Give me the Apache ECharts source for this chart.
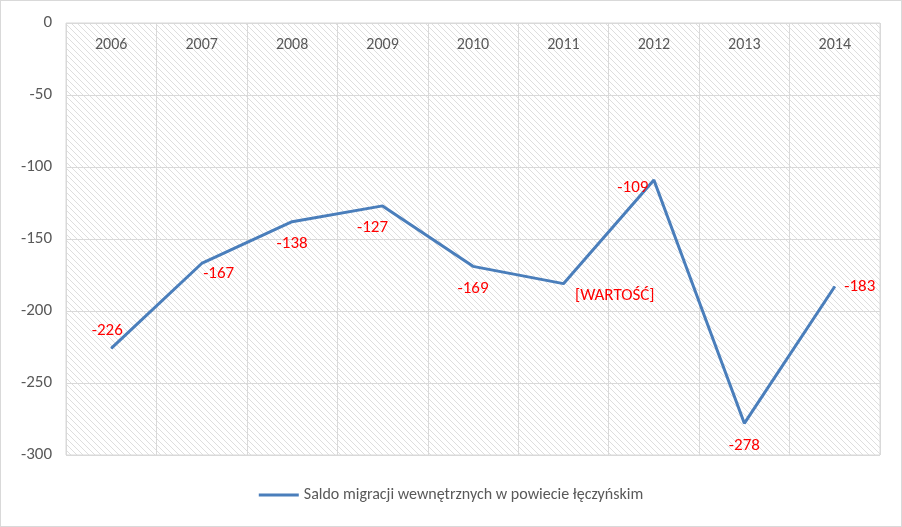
<!DOCTYPE html>
<html><head><meta charset="utf-8">
<script src="https://cdn.jsdelivr.net/npm/echarts@6/dist/echarts.min.js"></script>
<style>html,body{margin:0;padding:0;background:#fff}#c{width:902px;height:527px;box-sizing:border-box;border:1px solid #d9d9d9}</style>
</head><body><div id="c"></div>
<script>
const years = ['2006','2007','2008','2009','2010','2011','2012','2013','2014'];
const saldo = [-226, -167, -138, -127, -169, -181, -109, -278, -183];
const labelTexts = ['-226','-167','-138','-127','-169','[WARTOŚĆ]','-109','-278','-183'];
const labelPos = ['top','right','bottom','bottom','bottom','right','left','bottom','right'];
const labelOff = [[-4,-4],[-4,10],[0,8],[-10,8],[0,8],[6,12],[0,8],[0,8],[4,0]];

// diagonal hatch
const pc = document.createElement('canvas');
pc.width = 6; pc.height = 6;
const g = pc.getContext('2d');
g.fillStyle = '#ffffff'; g.fillRect(0,0,6,6);
g.strokeStyle = '#dedede'; g.lineWidth = 1;
g.beginPath();
g.moveTo(0,0); g.lineTo(6,6);
g.moveTo(-3,3); g.lineTo(3,9);
g.moveTo(3,-3); g.lineTo(9,3);
g.stroke();

const chart = echarts.init(document.getElementById('c'));
const font = 'Carlito, "Open Sans", sans-serif';
chart.setOption({
  animation: false,
  textStyle: { fontFamily: font },
  grid: { left: 65, right: 21, top: 22, bottom: 71, show: true,
    backgroundColor: { image: pc, repeat: 'repeat' }, borderColor: '#d9d9d9', borderWidth: 1 },
  legend: { bottom: 18, itemWidth: 40, itemHeight: 3, icon: 'rect',
    textStyle: { fontSize: 16, color: '#595959', fontFamily: font },
    data: ['Saldo migracji wewnętrznych w powiecie łęczyńskim'] },
  xAxis: { type: 'category', data: years, position: 'top', boundaryGap: true,
    axisLine: { show: false }, axisTick: { show: false },
    axisLabel: { inside: true, margin: 14, color: '#595959', fontSize: 16, verticalAlign: 'top', fontFamily: font },
    splitLine: { show: true, lineStyle: { color: '#d9d9d9' } } },
  yAxis: { type: 'value', min: -300, max: 0, interval: 50,
    axisLine: { show: false }, axisTick: { show: false },
    axisLabel: { color: '#595959', fontSize: 17, margin: 14, fontFamily: font },
    splitLine: { lineStyle: { color: '#d9d9d9' } } },
  series: [{
    name: 'Saldo migracji wewnętrznych w powiecie łęczyńskim',
    type: 'line', data: saldo.map((v, i) => ({
      value: v,
      label: { show: true, position: labelPos[i], offset: labelOff[i], formatter: labelTexts[i] }
    })),
    symbol: 'circle', symbolSize: 1, showSymbol: true,
    lineStyle: { color: '#4a7ebb', width: 3 }, itemStyle: { color: '#4a7ebb' },
    label: { show: true, color: '#ff0000', fontSize: 17, fontFamily: font }
  }]
});
</script></body></html>
